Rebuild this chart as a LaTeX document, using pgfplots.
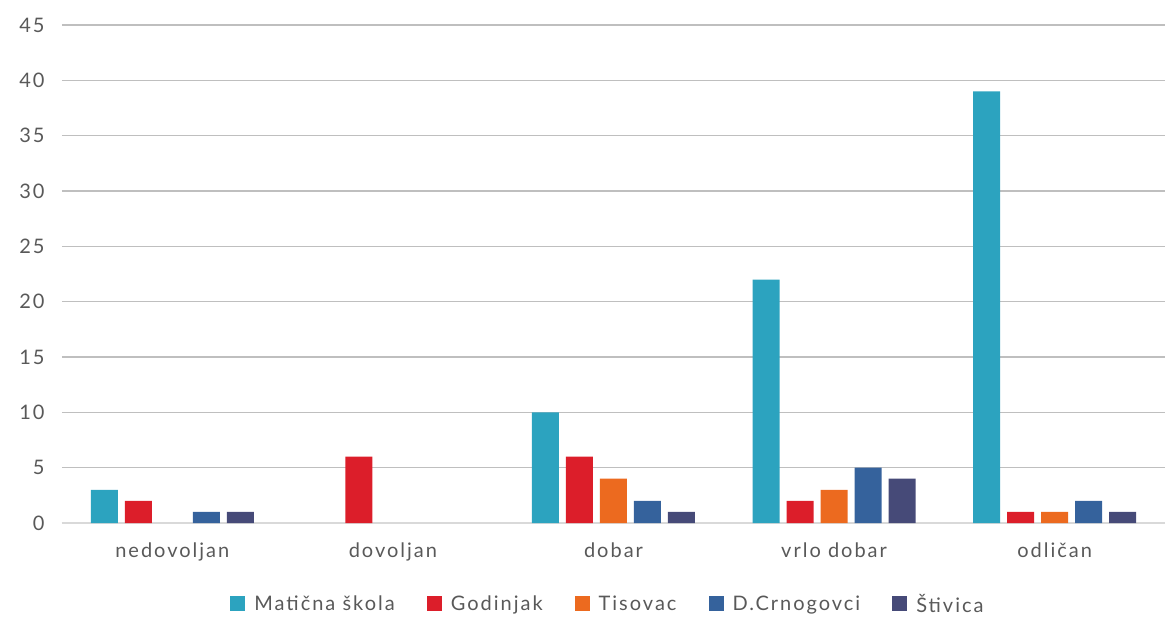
\documentclass[border=0pt]{standalone}
\usepackage{pgfplots}
\pgfplotsset{compat=1.18}
\usepackage{fontspec}
\setmainfont[LetterSpace=10]{Lato}
\definecolor{cA}{HTML}{2CA3BF}
\definecolor{cB}{HTML}{DC1E2A}
\definecolor{cC}{HTML}{EC6A1F}
\definecolor{cD}{HTML}{35629C}
\definecolor{cE}{HTML}{464A78}
\definecolor{grid}{HTML}{D9D9D9}
\definecolor{txt}{HTML}{595959}
\begin{document}
\begin{tikzpicture}
\begin{axis}[
  name=ax,
  at={(0,0)}, anchor=south west,
  scale only axis,
  width=1103pt, height=498pt,
  ybar=7pt, bar width=27pt,
  xmin=-0.5, xmax=4.5, ymin=0, ymax=45,
  xtick={0,1,2,3,4},
  xticklabels={nedovoljan,dovoljan,dobar,vrlo dobar,odličan},
  ytick={0,5,...,45},
  xmajorgrids=false,
  ymajorgrids, major grid style={grid, line width=1.2pt},
  axis x line*=bottom, axis y line*=left,
  x axis line style={grid, line width=1.5pt, -},
  y axis line style={draw=none},
  major tick length=0pt,
  tick label style={font=\fontsize{20}{22}\selectfont, text=txt},
  /pgf/number format/assume math mode=true,
  xticklabel style={yshift=-16pt},
  yticklabel style={xshift=-14pt},
  legend style={at={(0.495,-0.135)}, anchor=north, draw=none, legend columns=-1,
     font=\fontsize{20}{22}\selectfont, text=txt,
     /tikz/every odd column/.append style={column sep=7pt},
     /tikz/every even column/.append style={column sep=30pt}},
  legend image code/.code={\fill[#1] (0pt,-7pt) rectangle (15pt,8pt);},
  legend cell align=left,
]
\addplot[fill=cA, draw=none] coordinates {(0,3) (2,10) (3,22) (4,39)};
\addplot[fill=cB, draw=none] coordinates {(0,2) (1,6) (2,6) (3,2) (4,1)};
\addplot[fill=cC, draw=none] coordinates {(2,4) (3,3) (4,1)};
\addplot[fill=cD, draw=none] coordinates {(0,1) (2,2) (3,5) (4,2)};
\addplot[fill=cE, draw=none] coordinates {(0,1) (2,1) (3,4) (4,1)};
\legend{Matična škola, Godinjak, Tisovac, D.Crnogovci, Štivica}
\end{axis}
\pgfresetboundingbox
\path[use as bounding box] (-62pt,-93pt) rectangle (1103pt,523pt);
\end{tikzpicture}
\end{document}
